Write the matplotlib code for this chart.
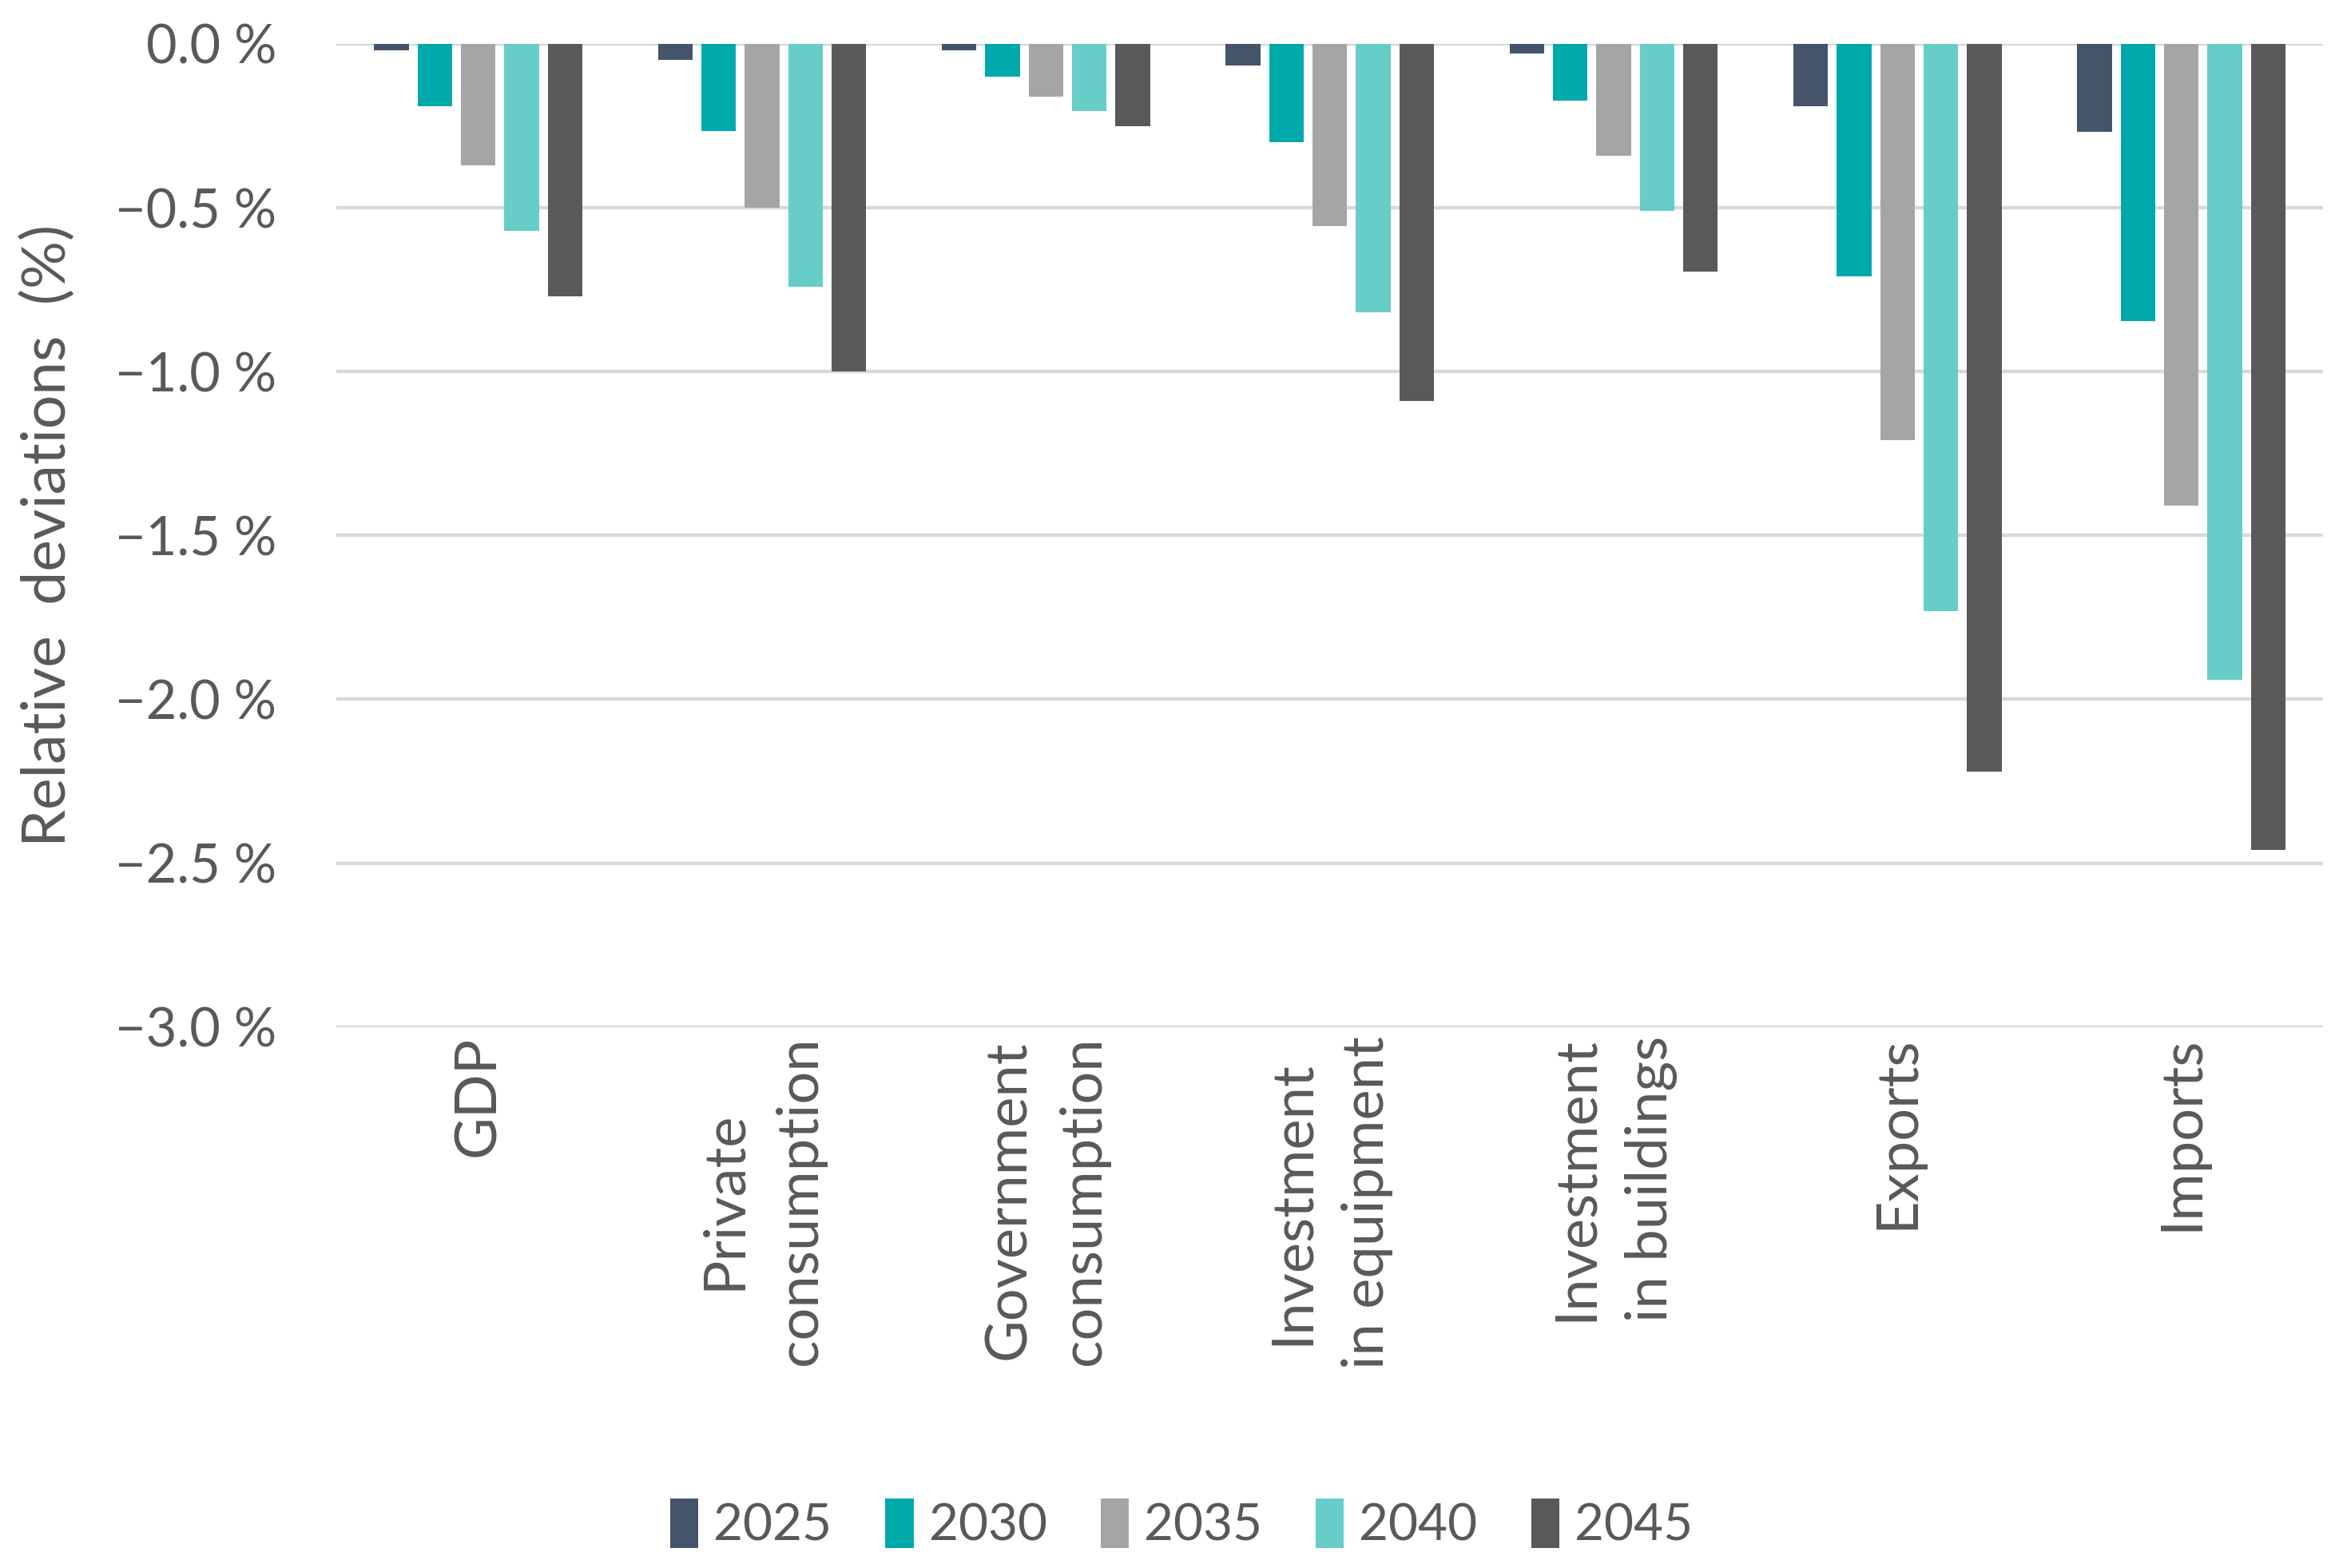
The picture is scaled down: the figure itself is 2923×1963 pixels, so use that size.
import numpy as np
import matplotlib.pyplot as plt

categories = [
    "GDP",
    "Private\nconsumption",
    "Government\nconsumption",
    "Investment\nin equipment",
    "Investment\nin buildings",
    "Exports",
    "Imports",
]
years = ["2025", "2030", "2035", "2040", "2045"]

dev_2025 = [-0.02, -0.05, -0.02, -0.065, -0.03, -0.19, -0.267]
dev_2030 = [-0.19, -0.265, -0.10, -0.30, -0.174, -0.71, -0.846]
dev_2035 = [-0.37, -0.50, -0.16, -0.555, -0.342, -1.21, -1.41]
dev_2040 = [-0.57, -0.74, -0.205, -0.82, -0.51, -1.73, -1.94]
dev_2045 = [-0.77, -1.00, -0.25, -1.09, -0.694, -2.22, -2.46]

yticks = [0.0, -0.5, -1.0, -1.5, -2.0, -2.5, -3.0]

# styling
COLORS = ["#44546A", "#00A9A9", "#A5A5A5", "#66CDC8", "#595959"]
TEXT = "#595959"
GRID = "#D9D9D9"
STEP = 0.153
WIDTH = 0.122

plt.rcParams["font.family"] = ["Lato", "DejaVu Sans"]

fig = plt.figure(figsize=(14.615, 9.815), dpi=200)
ax = fig.add_axes([0.144, 0.345, 0.851, 0.627])

series = [dev_2025, dev_2030, dev_2035, dev_2040, dev_2045]
x = np.arange(len(categories))
for i, (year, vals) in enumerate(zip(years, series)):
    ax.bar(x + (i - 2) * STEP, vals, WIDTH, color=COLORS[i], label=year, zorder=3)

ax.set_xlim(-0.5, len(categories) - 0.5)
ax.set_ylim(-3.0, 0.0)
ax.set_yticks(yticks)
ax.set_yticklabels([f"{v:.1f} %".replace("-", "\u2212") for v in yticks])
ax.set_xticks(x)
ax.set_xticklabels(categories, rotation=90, ha="center", va="top",
                   multialignment="center", linespacing=1.55)

ax.grid(axis="y", color=GRID, linewidth=1.6, zorder=0)
ax.set_axisbelow(True)
for s in ax.spines.values():
    s.set_visible(False)
ax.tick_params(axis="y", length=0, pad=27, labelsize=24, labelcolor=TEXT)
ax.tick_params(axis="x", length=0, pad=4, labelsize=26, labelcolor=TEXT)

ax.set_ylabel("Relative  deviations  (%)", fontsize=27, color=TEXT)
ax.yaxis.set_label_coords(-0.131, 0.5)

leg = fig.legend(loc="center", bbox_to_anchor=(0.506, 0.028), ncol=5,
                 frameon=False, fontsize=23, handlelength=0.55, handleheight=1.1,
                 handletextpad=0.3, columnspacing=1.05)
for t in leg.get_texts():
    t.set_color(TEXT)

fig.savefig("out.png", dpi=200)
